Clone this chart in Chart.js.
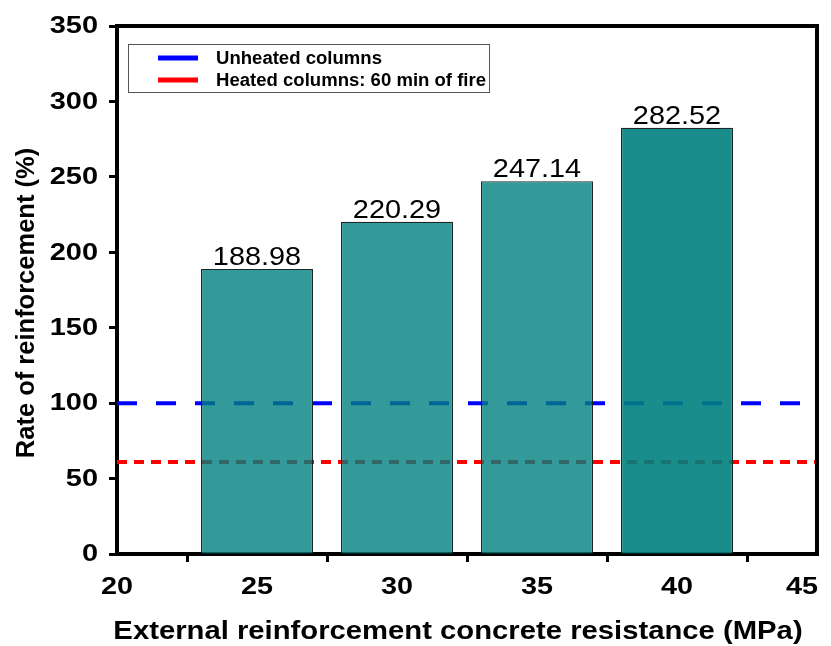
<!DOCTYPE html>
<html>
<head>
<meta charset="utf-8">
<script src="https://cdn.jsdelivr.net/npm/chart.js@4.4.1/dist/chart.umd.min.js"></script>
<style>
  html, body { margin: 0; padding: 0; background: #ffffff; }
  #wrap { width: 831px; height: 646px; }
</style>
</head>
<body>
<div id="wrap"><canvas id="chart" width="831" height="646"></canvas></div>
<script>
// Concrete resistance of the external reinforcement (MPa)
const resistance = [25, 30, 35, 40];
// Rate of reinforcement (%) for each resistance
const reinforcementRate = [188.98, 220.29, 247.14, 282.52];
// Reference levels (%)
const unheatedLevel = 100;
const heatedLevel = 61;
const xRange = [20, 45];
const yRange = [0, 350];
const xTickLabels = ['20', '25', '30', '35', '40', '45'];
const yTickLabels = ['0', '50', '100', '150', '200', '250', '300', '350'];
const xTitle = 'External reinforcement concrete resistance (MPa)';
const yTitle = 'Rate of reinforcement (%)';
const legendLabels = ['Unheated columns', 'Heated columns: 60 min of fire'];

const barFill = ['rgba(0,128,128,0.8)', 'rgba(0,128,128,0.8)', 'rgba(0,128,128,0.8)', 'rgba(0,128,128,0.9)'];

const FONT = 'Arial, "Liberation Sans", Helvetica, sans-serif';

// Text in this figure uses a slightly widened face; draw with a horizontal scale
function wideText(ctx, text, x, y, font, sx, align, baseline) {
  ctx.save();
  ctx.font = font;
  ctx.textAlign = align;
  ctx.textBaseline = baseline;
  ctx.translate(x, y);
  ctx.scale(sx, 1);
  ctx.fillText(text, 0, 0);
  ctx.restore();
}

// Value printed above each bar
const valueLabels = {
  id: 'valueLabels',
  afterDatasetsDraw(chart) {
    const meta = chart.getDatasetMeta(0);
    const ctx = chart.ctx;
    ctx.fillStyle = '#000';
    meta.data.forEach((bar, i) => {
      wideText(ctx, reinforcementRate[i].toFixed(2), bar.x, bar.y + 2,
        '26px ' + FONT, 1.11, 'center', 'bottom');
    });
  }
};

// Tick labels and axis titles
const axisText = {
  id: 'axisText',
  afterDraw(chart) {
    const ctx = chart.ctx;
    const xs = chart.scales.x, ys = chart.scales.y;
    const a = chart.chartArea;
    ctx.fillStyle = '#000';
    const xFont = 'bold 24px ' + FONT, xsx = 1.2;
    xs.ticks.forEach((t, i) => {
      let px = xs.getPixelForValue(t.value);
      // keep the last label inside the canvas
      ctx.font = xFont;
      const half = ctx.measureText(xTickLabels[i]).width * xsx / 2;
      px = Math.min(px, chart.width - 13 - half);
      wideText(ctx, xTickLabels[i], px, a.bottom + 33, xFont, xsx, 'center', 'middle');
    });
    ys.ticks.forEach((t, i) => {
      const py = ys.getPixelForValue(t.value);
      wideText(ctx, yTickLabels[i], a.left - 19, py + 1, 'bold 23px ' + FONT, 1.26, 'right', 'middle');
    });
    wideText(ctx, xTitle, 458, 632, 'bold 25px ' + FONT, 1.17, 'center', 'middle');
    ctx.save();
    ctx.translate(27, 303);
    ctx.rotate(-Math.PI / 2);
    wideText(ctx, yTitle, 0, 0, 'bold 25.5px ' + FONT, 1, 'center', 'middle');
    ctx.restore();
  }
};

// Closing frame on top and right of the plot area
const frame = {
  id: 'frame',
  afterDraw(chart) {
    const {ctx, chartArea: a} = chart;
    ctx.save();
    ctx.strokeStyle = '#000';
    ctx.lineWidth = 4;
    ctx.beginPath();
    ctx.moveTo(a.left - 2, a.top);
    ctx.lineTo(a.right, a.top);
    ctx.lineTo(a.right, a.bottom + 2);
    ctx.stroke();
    ctx.restore();
  }
};

// Boxed legend for the two reference lines
const boxLegend = {
  id: 'boxLegend',
  afterDraw(chart) {
    const ctx = chart.ctx;
    const a = chart.chartArea;
    const x0 = a.left + 11, y0 = a.top + 18;
    const w = 361, h = 48;
    ctx.save();
    ctx.fillStyle = '#fff';
    ctx.fillRect(x0, y0, w, h);
    ctx.strokeStyle = '#555';
    ctx.lineWidth = 1;
    ctx.strokeRect(x0 + 0.5, y0 + 0.5, w, h);
    const colors = ['#0000ff', '#ff0000'];
    legendLabels.forEach((txt, i) => {
      const yy = y0 + 14 + i * 22;
      ctx.fillStyle = colors[i];
      ctx.fillRect(x0 + 30, yy - 2.5, 40, 5);
      ctx.fillStyle = '#000';
      wideText(ctx, txt, x0 + 88, yy + 1, 'bold 17.5px ' + FONT, 1.06, 'left', 'middle');
    });
    ctx.restore();
  }
};

new Chart(document.getElementById('chart'), {
  type: 'bar',
  data: {
    datasets: [
      {
        type: 'bar',
        data: resistance.map((x, i) => ({x: x, y: reinforcementRate[i]})),
        backgroundColor: barFill,
        borderColor: '#1f2626',
        borderWidth: 1.2,
        categoryPercentage: 1,
        barPercentage: 0.8,
        order: 0
      },
      {
        type: 'line',
        data: xRange.map(x => ({x: x, y: unheatedLevel})),
        borderColor: '#0000ff',
        borderWidth: 4,
        borderDash: [20, 19],
        borderCapStyle: 'butt',
        pointRadius: 0,
        fill: false,
        order: 1
      },
      {
        type: 'line',
        data: xRange.map(x => ({x: x, y: heatedLevel})),
        borderColor: '#ff0000',
        borderWidth: 4,
        borderDash: [10, 7],
        borderCapStyle: 'butt',
        pointRadius: 0,
        fill: false,
        order: 2
      }
    ]
  },
  options: {
    responsive: false,
    animation: false,
    devicePixelRatio: 1,
    layout: { padding: { top: 26, right: 14, left: 0, bottom: 0 } },
    plugins: { legend: { display: false }, tooltip: { enabled: false } },
    scales: {
      x: {
        type: 'linear',
        min: xRange[0],
        max: xRange[1],
        offset: false,
        ticks: { stepSize: 5, display: false },
        grid: { drawOnChartArea: false, drawTicks: true, tickLength: 8, tickWidth: 3, tickColor: '#000' },
        border: { color: '#000', width: 4 },
        afterFit(scale) { scale.height = 92; }
      },
      y: {
        min: yRange[0],
        max: yRange[1],
        ticks: { stepSize: 50, display: false },
        grid: { drawOnChartArea: false, drawTicks: true, tickLength: 8, tickWidth: 3, tickColor: '#000' },
        border: { color: '#000', width: 4 },
        afterFit(scale) { scale.width = 117; }
      }
    }
  },
  plugins: [valueLabels, axisText, frame, boxLegend]
});
</script>
</body>
</html>
